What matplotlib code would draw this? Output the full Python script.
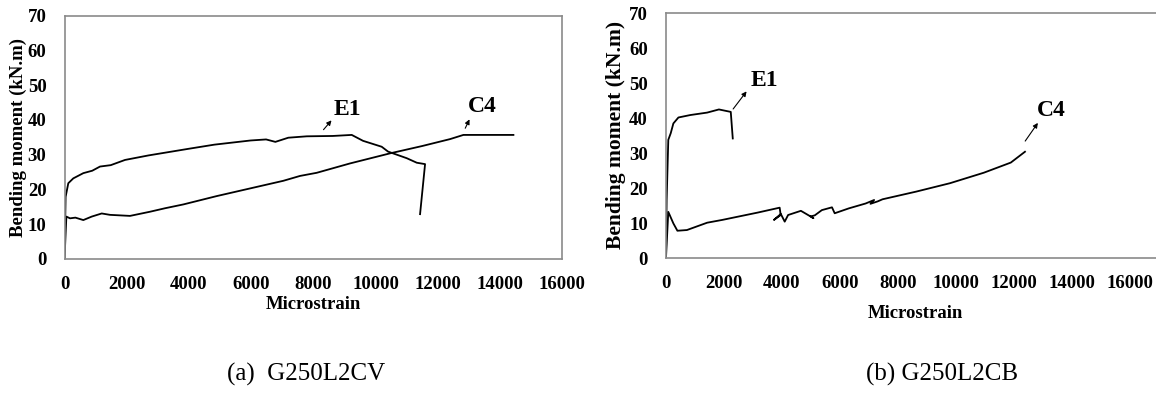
import matplotlib.pyplot as plt

# (a) G250L2CV
a_e1_x = [0, 36, 122, 283, 605, 892, 1142, 1487, 1946, 2700, 3985, 4818, 5984, 6483, 6781,
          7197, 7792, 8625, 9237, 9600, 10200, 10405, 11006, 11328, 11595, 11434]
a_e1_y = [0, 17.9, 21.8, 23.2, 24.7, 25.4, 26.6, 27.0, 28.5, 29.8, 31.7, 32.9, 34.1, 34.4, 33.7,
          34.9, 35.3, 35.4, 35.7, 34.0, 32.3, 30.9, 29.0, 27.7, 27.3, 12.9]
a_c4_x = [0, 60, 177, 350, 605, 875, 1197, 1463, 2107, 2750, 3233, 3822, 4895, 5966, 7037,
          7574, 8110, 9183, 10470, 11500, 12400, 12828, 14436]
a_c4_y = [0, 12.2, 11.7, 11.9, 11.2, 12.2, 13.1, 12.7, 12.4, 13.6, 14.6, 15.7, 18.1, 20.3, 22.5,
          23.9, 24.8, 27.5, 30.4, 32.5, 34.5, 35.7, 35.7]

# (b) G250L2CB
b_e1_x = [0, 23, 80, 164, 255, 429, 838, 1420, 1826, 2234, 2303]
b_e1_y = [0, 16.6, 33.8, 35.7, 38.5, 40.2, 40.9, 41.6, 42.5, 41.8, 34.2]
b_c4_x = [0, 80, 255, 394, 722, 1420, 1943, 2583, 3165, 3920, 3955, 3723, 3960, 4094, 4211,
          4652, 5085, 4990, 5130, 5375, 5724, 5817, 6305, 6886, 7178, 7050, 7300, 7467, 8630,
          9793, 10959, 11890, 12378]
b_c4_y = [0, 13.2, 9.9, 7.8, 8.0, 10.1, 10.9, 12.0, 13.0, 14.4, 12.3, 10.9, 12.6, 10.4, 12.3,
          13.5, 11.4, 11.9, 12.2, 13.7, 14.5, 12.8, 14.2, 15.6, 16.6, 15.5, 16.2, 16.8, 19.0,
          21.4, 24.4, 27.3, 30.4]

x_ticks = [0, 2000, 4000, 6000, 8000, 10000, 12000, 14000, 16000]
y_ticks = [0, 10, 20, 30, 40, 50, 60, 70]

plt.rcParams['font.family'] = ['Liberation Serif', 'DejaVu Serif']

fig = plt.figure(figsize=(11.56, 3.93), dpi=100)
ax1 = fig.add_axes([0.0558, 0.341, 0.4304, 0.619])
ax2 = fig.add_axes([0.5761, 0.3435, 0.4516, 0.6226])


def style(ax, xmax, ylab_size, xlab_xy, ylab_xy):
    ax.set_xlim(0, xmax)
    ax.set_ylim(0, 70)
    ax.set_xticks(x_ticks)
    ax.set_yticks(y_ticks)
    ax.tick_params(length=0, labelsize=13.5)
    ax.tick_params(axis='x', pad=12)
    ax.tick_params(axis='y', pad=13)
    for lab in ax.get_xticklabels() + ax.get_yticklabels():
        lab.set_fontweight('bold')
    for sp in ax.spines.values():
        sp.set_color('#8a8a8a')
        sp.set_linewidth(1.2)
    ax.set_xlabel('Microstrain', fontsize=13.5, fontweight='bold')
    ax.xaxis.label.set_va('center')
    ax.xaxis.set_label_coords(*xlab_xy)
    ax.set_ylabel('Bending moment (kN.m)', fontsize=ylab_size, fontweight='bold')
    ax.yaxis.label.set_va('center')
    ax.yaxis.set_label_coords(*ylab_xy)


style(ax1, 16000, 13.5, (0.5, -0.189), (-0.0935, 0.5))
style(ax2, 18000, 15.5, (0.478, -0.225), (-0.0948, 0.503))

ax1.plot(a_e1_x, a_e1_y, color='black', lw=1.3)
ax1.plot(a_c4_x, a_c4_y, color='black', lw=1.3)
ax2.plot(b_e1_x, b_e1_y, color='black', lw=1.3)
ax2.plot(b_c4_x, b_c4_y, color='black', lw=1.3)

arrow = dict(arrowstyle='-|>', color='black', lw=0.8, mutation_scale=7)
ax1.annotate('', xy=(8644, 40.5), xytext=(8271, 36.6), arrowprops=arrow)
ax1.text(9085, 42.9, 'E1', fontsize=17, fontweight='bold', ha='center', va='center')
ax1.annotate('', xy=(13063, 40.9), xytext=(12848, 36.9), arrowprops=arrow)
ax1.text(13443, 44.0, 'C4', fontsize=17, fontweight='bold', ha='center', va='center')

ax2.annotate('', xy=(2837, 48.3), xytext=(2258, 42.0), arrowprops=arrow)
ax2.text(3385, 50.9, 'E1', fontsize=17, fontweight='bold', ha='center', va='center')
ax2.annotate('', xy=(12878, 39.3), xytext=(12331, 32.8), arrowprops=arrow)
ax2.text(13287, 42.3, 'C4', fontsize=17, fontweight='bold', ha='center', va='center')

fig.text(306 / 1156, 1 - 374 / 393, '(a)  G250L2CV', fontsize=18, ha='center', va='center')
fig.text(942 / 1156, 1 - 374 / 393, '(b) G250L2CB', fontsize=18, ha='center', va='center')

plt.savefig('out.png', dpi=100)
